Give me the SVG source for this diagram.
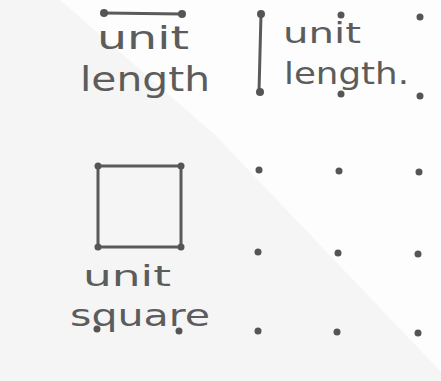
<svg xmlns="http://www.w3.org/2000/svg" width="441" height="381" viewBox="0 0 441 381">
<defs>
<style>
.bg{fill:#fdfdfd}
.shade{fill:#f5f5f5}
.dot{fill:#555}
.ln{stroke:#5a5a5a;stroke-width:3;fill:none;stroke-linecap:round}
.hw{font-family:"DejaVu Sans",sans-serif;fill:#5c5c5c;font-weight:normal}
</style>
</defs>
<rect class="bg" x="0" y="0" width="441" height="381"/>
<polygon class="shade" points="0,0 60,0 215,135 441,372 441,381 0,381"/>
<g id="unit-length-horizontal">
<line class="ln" x1="104" y1="13" x2="182" y2="14"/>
<circle class="dot" cx="104" cy="13" r="4"/>
<circle class="dot" cx="182" cy="14" r="4"/>
<text class="hw" x="97" y="49" font-size="32" textLength="92" lengthAdjust="spacingAndGlyphs">unit</text>
<text class="hw" x="80" y="91" font-size="34" textLength="130" lengthAdjust="spacingAndGlyphs">length</text>
</g>
<g id="unit-length-vertical">
<line class="ln" x1="261" y1="14" x2="259" y2="92"/>
<text class="hw" x="283" y="43" font-size="28" textLength="78" lengthAdjust="spacingAndGlyphs">unit</text>
<text class="hw" x="284" y="84" font-size="30" textLength="125" lengthAdjust="spacingAndGlyphs">length.</text>
</g>
<g id="unit-square">
<rect class="ln" x="98" y="166" width="83" height="81"/>
<circle class="dot" cx="98" cy="166" r="3.5"/>
<circle class="dot" cx="181" cy="166" r="3.5"/>
<circle class="dot" cx="98" cy="247" r="3.5"/>
<circle class="dot" cx="181" cy="247" r="3.5"/>
<text class="hw" x="83" y="286" font-size="28" textLength="88" lengthAdjust="spacingAndGlyphs">unit</text>
<text class="hw" x="70" y="326" font-size="30" textLength="140" lengthAdjust="spacingAndGlyphs">square</text>
</g>
<g id="grid">
<circle class="dot" cx="261" cy="14" r="4"/>
<circle class="dot" cx="341" cy="15" r="3.5"/>
<circle class="dot" cx="420" cy="17" r="3.5"/>
<circle class="dot" cx="260" cy="92" r="4"/>
<circle class="dot" cx="341" cy="94" r="3.5"/>
<circle class="dot" cx="420" cy="96" r="3.5"/>
<circle class="dot" cx="259" cy="170" r="3.5"/>
<circle class="dot" cx="339" cy="171" r="3.5"/>
<circle class="dot" cx="419" cy="172" r="3.5"/>
<circle class="dot" cx="258" cy="252" r="3.5"/>
<circle class="dot" cx="338" cy="253" r="3.5"/>
<circle class="dot" cx="418" cy="254" r="3.5"/>
<circle class="dot" cx="258" cy="331" r="3.5"/>
<circle class="dot" cx="337" cy="332" r="3.5"/>
<circle class="dot" cx="418" cy="333" r="3.5"/>
<circle class="dot" cx="97" cy="329" r="3.5"/>
<circle class="dot" cx="179" cy="331" r="3.5"/>
</g>
</svg>
